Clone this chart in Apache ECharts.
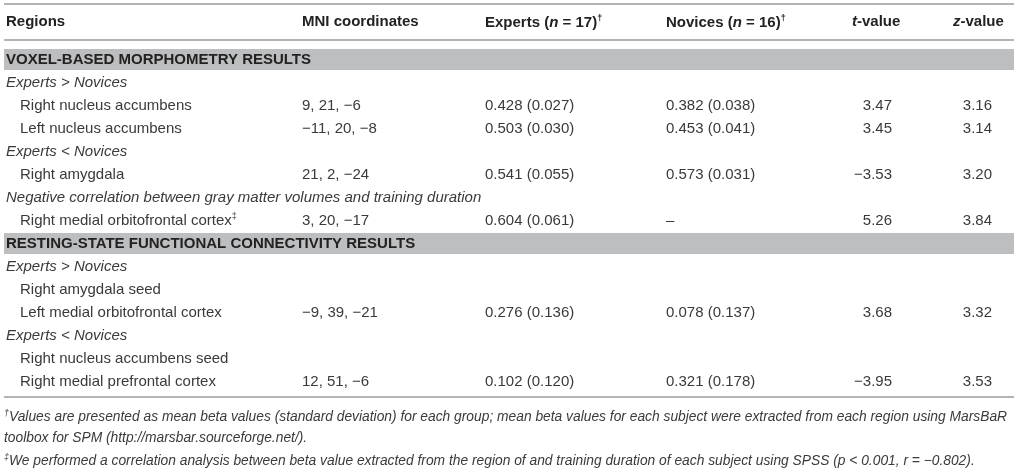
<!DOCTYPE html>
<html>
<head>
<meta charset="utf-8">
<script src="https://cdn.jsdelivr.net/npm/echarts@6/dist/echarts.min.js"></script>
<style>
  html, body { margin: 0; padding: 0; background: #fff; }
  #main { width: 1019px; height: 473px; }
</style>
</head>
<body>
<div id="main"></div>
<script>
// table rows (one entry per body row)
const rowLabels = [
  'VOXEL-BASED MORPHOMETRY RESULTS',
  'Experts > Novices',
  'Right nucleus accumbens',
  'Left nucleus accumbens',
  'Experts < Novices',
  'Right amygdala',
  'Negative correlation between gray matter volumes and training duration',
  'Right medial orbitofrontal cortex',
  'RESTING-STATE FUNCTIONAL CONNECTIVITY RESULTS',
  'Experts > Novices',
  'Right amygdala seed',
  'Left medial orbitofrontal cortex',
  'Experts < Novices',
  'Right nucleus accumbens seed',
  'Right medial prefrontal cortex'
];
const rowKinds = ['section', 'group', 'region', 'region', 'group', 'region', 'group', 'region',
  'section', 'group', 'region', 'region', 'group', 'region', 'region'];
const rowMarks = ['', '', '', '', '', '', '', '‡', '', '', '', '', '', '', ''];
const mniCoords = ['', '', '9, 21, −6', '−11, 20, −8', '', '21, 2, −24', '', '3, 20, −17',
  '', '', '', '−9, 39, −21', '', '', '12, 51, −6'];
const expertMean = [null, null, 0.428, 0.503, null, 0.541, null, 0.604, null, null, null, 0.276, null, null, 0.102];
const expertSd   = [null, null, 0.027, 0.030, null, 0.055, null, 0.061, null, null, null, 0.136, null, null, 0.120];
const noviceMean = [null, null, 0.382, 0.453, null, 0.573, null, null, null, null, null, 0.078, null, null, 0.321];
const noviceSd   = [null, null, 0.038, 0.041, null, 0.031, null, null, null, null, null, 0.137, null, null, 0.178];
const tValues = [null, null, 3.47, 3.45, null, -3.53, null, 5.26, null, null, null, 3.68, null, null, -3.95];
const zValues = [null, null, 3.16, 3.14, null, 3.20, null, 3.84, null, null, null, 3.32, null, null, 3.53];

const footnotes = [
  '{sup|†}Values are presented as mean beta values (standard deviation) for each group; mean beta values for each subject were extracted from each region using MarsBaR',
  'toolbox for SPM (http://marsbar.sourceforge.net/).',
  '{sup|‡}We performed a correlation analysis between beta value extracted from the region of and training duration of each subject using SPSS (p < 0.001, r = −0.802).'
];

// column x positions (layout)
const COL = { region: 6, indent: 20, mni: 302, experts: 485, novices: 666, tRight: 892, zRight: 992 };
const FONT = '"Liberation Sans", Arial, Helvetica, sans-serif';
const SIZE = '15px ';
const TEXT = '#3a3a3a';
const RULE = '#b4b4b4';

function num(v, d) {
  return v.toFixed(d).replace('-', '−');
}
function meanSd(m, s) {
  return num(m, 3) + ' (' + num(s, 3) + ')';
}

const chart = echarts.init(document.getElementById('main'));

function txt(x, y, text, extra) {
  return {
    type: 'text', x: x, y: y,
    style: Object.assign({
      text: text, fill: TEXT, font: SIZE + FONT,
      align: 'left', verticalAlign: 'middle'
    }, extra || {})
  };
}

function renderRow(params, api) {
  const i = api.value(1);
  const y = api.coord([0, i])[1];
  const h = api.size([0, 1])[1];
  const at = (x) => api.coord([x, i])[0];
  const kind = rowKinds[i];
  const kids = [];
  if (kind === 'section') {
    const l = at(4), r = at(1014);
    kids.push({ type: 'rect', shape: { x: l, y: y - h / 2 + 1, width: r - l, height: h - 2 },
      style: { fill: '#bdbec0' } });
    kids.push(txt(at(COL.region), y, rowLabels[i], { font: 'bold ' + SIZE + FONT, fill: '#222' }));
  } else if (kind === 'group') {
    kids.push(txt(at(COL.region), y, rowLabels[i], { font: 'italic ' + SIZE + FONT }));
  } else {
    const label = rowMarks[i] ? rowLabels[i] + '{sup|' + rowMarks[i] + '}' : rowLabels[i];
    kids.push(txt(at(COL.indent), y, label, {
      lineHeight: 17,
      rich: { sup: { font: '9px ' + FONT, fill: TEXT, verticalAlign: 'top', lineHeight: 17 } }
    }));
    if (mniCoords[i]) kids.push(txt(at(COL.mni), y, mniCoords[i]));
    if (expertMean[i] != null) {
      kids.push(txt(at(COL.experts), y, meanSd(expertMean[i], expertSd[i])));
      kids.push(txt(at(COL.novices), y, noviceMean[i] != null ? meanSd(noviceMean[i], noviceSd[i]) : '–'));
    }
    if (tValues[i] != null) kids.push(txt(at(COL.tRight), y, num(tValues[i], 2), { align: 'right' }));
    if (zValues[i] != null) kids.push(txt(at(COL.zRight), y, num(zValues[i], 2), { align: 'right' }));
  }
  return { type: 'group', children: kids };
}

const headRich = {
  b: { font: 'bold ' + SIZE + FONT, fill: '#222', lineHeight: 18 },
  bi: { font: 'italic bold ' + SIZE + FONT, fill: '#222', lineHeight: 18 },
  sup: { font: 'bold 9px ' + FONT, fill: '#222', verticalAlign: 'top', lineHeight: 18 }
};
function head(x, text) {
  return { type: 'text', left: x, top: 14, style: { text: text, rich: headRich } };
}
function rule(y) {
  return { type: 'line', shape: { x1: 4, y1: y, x2: 1014, y2: y },
    style: { stroke: RULE, lineWidth: 2 } };
}
const footRich = {
  n: { font: 'italic 13.8px ' + FONT, fill: TEXT, lineHeight: 17 },
  sup: { font: 'italic 9px ' + FONT, fill: TEXT, verticalAlign: 'top', lineHeight: 17 }
};

chart.setOption({
  animation: false,
  grid: { left: 0, right: 0, top: 48, height: 345 },
  xAxis: { type: 'value', min: 0, max: 1019, show: false },
  yAxis: { type: 'category', inverse: true, show: false,
    data: rowLabels.map((_, i) => String(i)) },
  graphic: [
    rule(4), rule(40), rule(397),
    head(COL.region, '{b|Regions}'),
    head(COL.mni, '{b|MNI coordinates}'),
    head(COL.experts, '{b|Experts (}{bi|n}{b| = 17)}{sup|†}'),
    head(COL.novices, '{b|Novices (}{bi|n}{b| = 16)}{sup|†}'),
    head(852, '{bi|t}{b|-value}'),
    head(953, '{bi|z}{b|-value}'),
    ...footnotes.map((f, k) => ({
      type: 'text', left: 4, top: 409 + k * 22,
      style: { text: f.replace(/(^|\})([^{]+)/g, (m, a, b) => a + '{n|' + b + '}'), rich: footRich }
    }))
  ],
  series: [{
    type: 'custom',
    renderItem: renderRow,
    data: rowLabels.map((_, i) => [0, i]),
    encode: { x: 0, y: 1 }
  }]
});
</script>
</body>
</html>
